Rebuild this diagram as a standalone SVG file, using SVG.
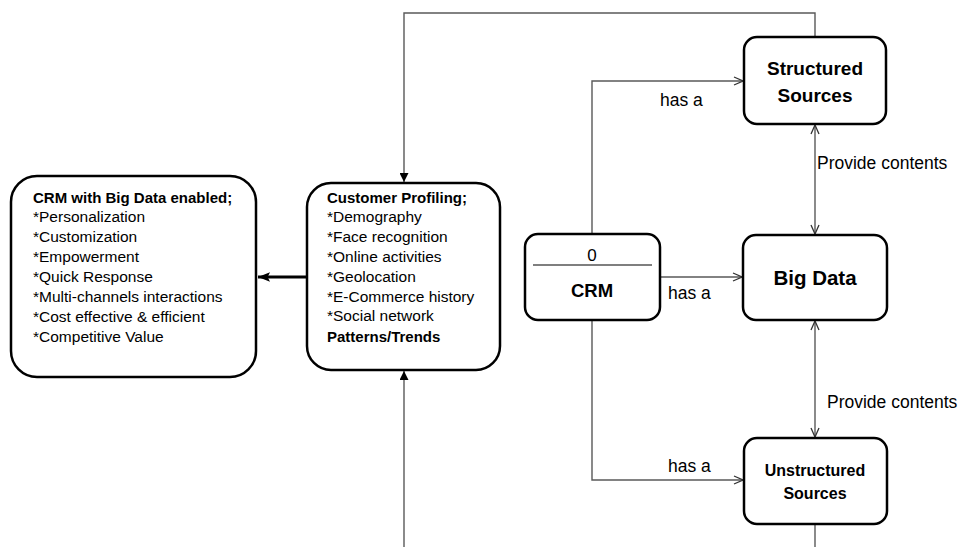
<svg xmlns="http://www.w3.org/2000/svg" width="960" height="547" viewBox="0 0 960 547">
<style>
.box{fill:#fff;stroke:#000;stroke-width:2.5}
.t{font-family:"Liberation Sans",Arial,sans-serif;font-size:15.5px;fill:#000}
.b{font-weight:bold;font-size:15px}
.c{text-anchor:middle}
.con{fill:none;stroke:#595959;stroke-width:1.4}
.lbl{font-family:"Liberation Sans",Arial,sans-serif;font-size:17.5px;fill:#000}
</style>
<defs>
<marker id="open" viewBox="0 0 10 10" refX="10" refY="5" markerWidth="10" markerHeight="10" markerUnits="userSpaceOnUse" orient="auto-start-reverse">
<path d="M1,1 L10,5 L1,9" fill="none" stroke="#333" stroke-width="1.3"/>
</marker>
<marker id="fill" viewBox="0 0 10 10" refX="10" refY="5" markerWidth="9" markerHeight="9" markerUnits="userSpaceOnUse" orient="auto">
<path d="M0,0 L10,5 L0,10 Z" fill="#000"/>
</marker>
<marker id="thick" viewBox="0 0 10 10" refX="10" refY="5" markerWidth="12" markerHeight="12" markerUnits="userSpaceOnUse" orient="auto">
<path d="M0,1 L10,5 L0,9 L2,5 Z" fill="#000"/>
</marker>
</defs>
<g id="connectors">
<path class="con" d="M815,37 V13 H404 V182" marker-end="url(#fill)"/>
<path class="con" d="M404,547 V371" marker-end="url(#fill)"/>
<path class="con" d="M815,524 V547"/>
<path class="con" d="M592,234 V81 H743" marker-end="url(#open)"/>
<path class="con" d="M660,277 H742" marker-end="url(#open)"/>
<path class="con" d="M592,320 V480 H743" marker-end="url(#open)"/>
<path class="con" d="M815,125 V234" marker-start="url(#open)" marker-end="url(#open)"/>
<path class="con" d="M815,321 V437" marker-start="url(#open)" marker-end="url(#open)"/>
<path d="M307,277 H258" fill="none" stroke="#000" stroke-width="3" marker-end="url(#thick)"/>
<text class="lbl" x="660" y="106">has a</text>
<text class="lbl" x="668" y="299">has a</text>
<text class="lbl" x="668" y="472">has a</text>
<text class="lbl" x="817" y="169">Provide contents</text>
<text class="lbl" x="827" y="408">Provide contents</text>
</g>
<g id="crm-bigdata">
<rect class="box" x="11" y="176" width="245" height="201" rx="26"/>
<text class="t b" x="33" y="203">CRM with Big Data enabled;</text>
<text class="t" x="33" y="222">*Personalization</text>
<text class="t" x="33" y="242">*Customization</text>
<text class="t" x="33" y="262">*Empowerment</text>
<text class="t" x="33" y="282">*Quick Response</text>
<text class="t" x="33" y="302">*Multi-channels interactions</text>
<text class="t" x="33" y="322">*Cost effective &amp; efficient</text>
<text class="t" x="33" y="342">*Competitive Value</text>
</g>
<g id="customer-profiling">
<rect class="box" x="307" y="183" width="193" height="187" rx="24"/>
<text class="t b" x="327" y="203">Customer Profiling;</text>
<text class="t" x="327" y="222">*Demography</text>
<text class="t" x="327" y="242">*Face recognition</text>
<text class="t" x="327" y="262">*Online activities</text>
<text class="t" x="327" y="282">*Geolocation</text>
<text class="t" x="327" y="302">*E-Commerce history</text>
<text class="t" x="327" y="321">*Social network</text>
<text class="t b" x="327" y="342">Patterns/Trends</text>
</g>
<g id="crm">
<rect class="box" x="525" y="234" width="135" height="86" rx="13"/>
<line x1="533" y1="265" x2="652" y2="265" stroke="#000" stroke-width="1.2"/>
<text class="t c" x="592" y="261" style="font-size:17px">0</text>
<text class="t b c" x="592" y="297" style="font-size:18.5px">CRM</text>
</g>
<g id="structured">
<rect class="box" x="744" y="37" width="142" height="87" rx="13"/>
<text class="t b c" x="815" y="75" style="font-size:19px">Structured</text>
<text class="t b c" x="815" y="102" style="font-size:19px">Sources</text>
</g>
<g id="bigdata">
<rect class="box" x="743" y="235" width="144" height="85" rx="13"/>
<text class="t b c" x="815" y="285" style="font-size:20.5px">Big Data</text>
</g>
<g id="unstructured">
<rect class="box" x="744" y="438" width="143" height="86" rx="13"/>
<text class="t b c" x="815" y="476" style="font-size:16px">Unstructured</text>
<text class="t b c" x="815" y="499" style="font-size:16px">Sources</text>
</g>
</svg>
